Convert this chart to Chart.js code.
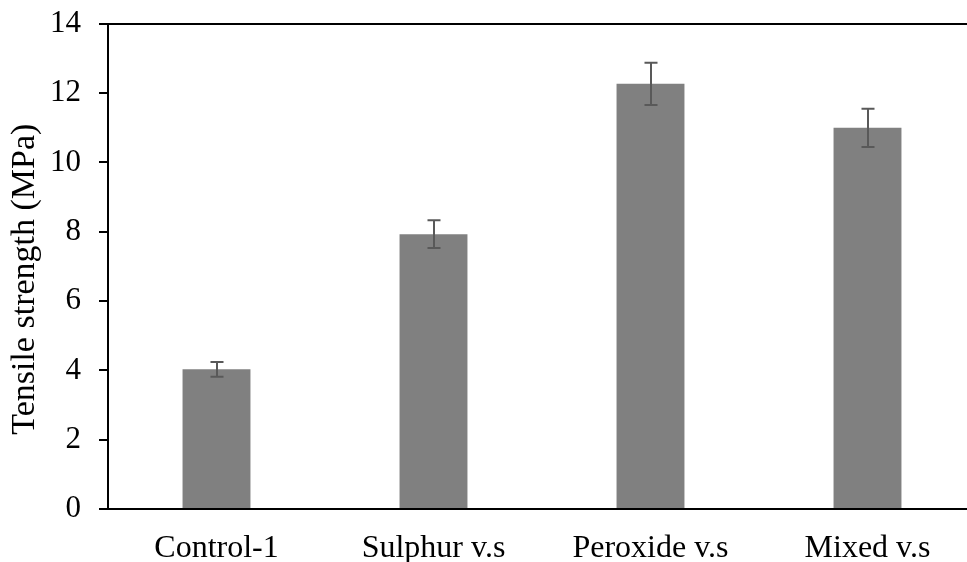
<!DOCTYPE html>
<html>
<head>
<meta charset="utf-8">
<script src="https://cdn.jsdelivr.net/npm/chart.js@4"></script>
<style>
  html, body { margin: 0; padding: 0; background: #fff; overflow: hidden; }
  #wrap { width: 990px; height: 562px; }
</style>
</head>
<body>
<div id="wrap"><canvas id="chart"></canvas></div>
<script>
var categories = ['Control-1', 'Sulphur v.s', 'Peroxide v.s', 'Mixed v.s'];
var strength = [4.03, 7.93, 12.27, 11.0];
var errors = [0.21, 0.4, 0.61, 0.55];
var yTicks = [0, 2, 4, 6, 8, 10, 12, 14];

// error bars drawn from the scales
var errorBars = {
  id: 'errorBars',
  afterDatasetsDraw: function (chart) {
    var ctx = chart.ctx;
    var y = chart.scales.y;
    var meta = chart.getDatasetMeta(0);
    ctx.save();
    ctx.strokeStyle = '#595959';
    ctx.lineWidth = 2;
    meta.data.forEach(function (bar, i) {
      var top = y.getPixelForValue(strength[i] + errors[i]);
      var bot = y.getPixelForValue(strength[i] - errors[i]);
      var cx = Math.round(bar.x);
      ctx.beginPath();
      ctx.moveTo(cx, top); ctx.lineTo(cx, bot);
      ctx.moveTo(cx - 6.5, top); ctx.lineTo(cx + 6.5, top);
      ctx.moveTo(cx - 6.5, bot); ctx.lineTo(cx + 6.5, bot);
      ctx.stroke();
    });
    ctx.restore();
  }
};

// top border of the plot box
var topBorder = {
  id: 'topBorder',
  afterDraw: function (chart) {
    var a = chart.chartArea;
    var ctx = chart.ctx;
    ctx.save();
    ctx.strokeStyle = '#000';
    ctx.lineWidth = 2;
    ctx.beginPath();
    ctx.moveTo(a.left - 1, a.top);
    ctx.lineTo(a.right, a.top);
    ctx.stroke();
    ctx.restore();
  }
};

var ctx = document.getElementById('chart').getContext('2d');
var myChart = new Chart(ctx, {
  type: 'bar',
  data: {
    labels: categories,
    datasets: [{
      data: strength,
      backgroundColor: '#808080',
      borderWidth: 0,
      categoryPercentage: 1,
      barPercentage: 0.313
    }]
  },
  options: {
    responsive: true,
    maintainAspectRatio: false,
    animation: false,
    layout: { padding: { top: 0, right: 14, left: 0, bottom: 0 } },
    plugins: { legend: { display: false }, tooltip: { enabled: false } },
    scales: {
      x: {
        grid: { display: false },
        border: { display: true, color: '#000', width: 2 },
        ticks: { color: '#000', padding: 12, font: { family: 'Liberation Serif', size: 32 } },
        afterFit: function (scale) { scale.height = 53; }
      },
      y: {
        min: 0,
        max: 14,
        afterBuildTicks: function (scale) {
          scale.ticks = yTicks.map(function (v) { return { value: v }; });
        },
        grid: { drawOnChartArea: false, drawTicks: true, tickLength: 9, color: '#000', lineWidth: 2 },
        border: { display: true, color: '#000', width: 2 },
        ticks: { color: '#000', padding: 18, font: { family: 'Liberation Serif', size: 31, lineHeight: 0.38 } },
        title: {
          display: true,
          text: 'Tensile strength (MPa)   ',
          color: '#000',
          padding: { top: 5, bottom: 0 },
          font: { family: 'Liberation Serif', size: 34 }
        },
        afterFit: function (scale) { scale.width = 108; }
      }
    }
  },
  plugins: [errorBars, topBorder]
});
</script>
</body>
</html>
